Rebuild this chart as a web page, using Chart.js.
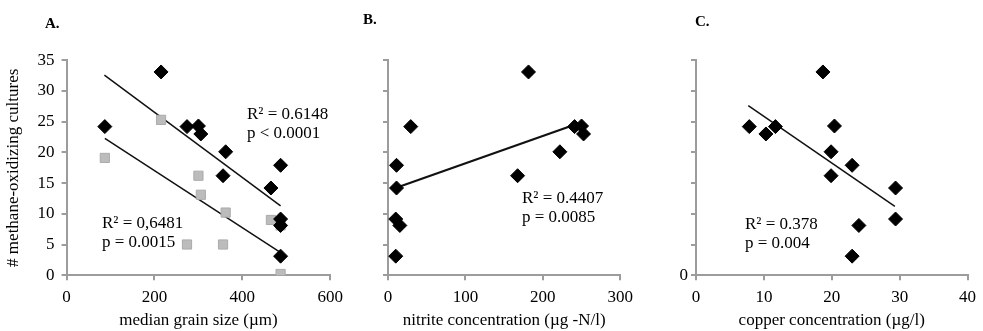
<!DOCTYPE html>
<html>
<head>
<meta charset="utf-8">
<script src="https://cdn.jsdelivr.net/npm/chart.js@4"></script>
<style>
  html, body { margin: 0; padding: 0; background: #fff; }
  #wrap { position: relative; width: 983px; height: 331px; font-family: "Liberation Serif", "Times New Roman", serif; color: #000; }
  canvas { position: absolute; top: 0; }
  .lbl { position: absolute; font-weight: bold; font-size: 15px; line-height: 16px; }
  .note { position: absolute; font-size: 17px; line-height: 19px; white-space: nowrap; }
</style>
</head>
<body>
<div id="wrap">
  <canvas id="chartA" style="left:0" width="350" height="331"></canvas>
  <canvas id="chartB" style="left:350px" width="290" height="331"></canvas>
  <canvas id="chartC" style="left:640px" width="343" height="331"></canvas>
  <div class="lbl" style="left:45px;top:15px">A.</div>
  <div class="lbl" style="left:363px;top:11px">B.</div>
  <div class="lbl" style="left:695px;top:13px">C.</div>
  <div class="note" style="left:247px;top:104px">R² = 0.6148<br>p &lt; 0.0001</div>
  <div class="note" style="left:102px;top:213px">R² = 0,6481<br>p = 0.0015</div>
  <div class="note" style="left:522px;top:188px">R² = 0.4407<br>p = 0.0085</div>
  <div class="note" style="left:745px;top:214px">R² = 0.378<br>p = 0.004</div>
</div>
<script>
// number of methane-oxidizing cultures per site (same sites in every panel)
const cultures = [24.2, 33.1, 24.2, 24.3, 23.0, 20.1, 16.2, 17.9, 14.2, 9.15, 8.1, 3.1];

// panel A
const grainSize = [87, 215, 274, 300, 305.5, 362, 356, 487, 465, 487, 487, 487];
const graySize = [87, 215, 274, 300, 305.5, 362, 356, 465, 487, 487];
const grayCultures = [19.1, 25.3, 5.0, 16.2, 13.1, 10.2, 5.0, 9.0, 8.1, 0.2];
const fitA1 = [[86, 32.6], [487, 11.3]];
const fitA2 = [[87, 22.3], [489, 3.6]];

// panel B
const nitrite = [29.4, 181.5, 241, 250, 252.6, 222, 167.4, 11, 11, 10, 15.3, 10];
const fitB = [[9.8, 14.2], [241, 24.5]];

// panel C
const copper = [7.85, 18.7, 11.7, 20.4, 10.3, 19.9, 19.9, 23.0, 29.4, 29.4, 24.0, 23.0];
const fitC = [[7.7, 27.6], [29.3, 11.2]];

const yTicks = [0, 5, 10, 15, 20, 25, 30, 35];

const axisGray = "#9c9c9c";
const font17 = { family: "Liberation Serif", size: 17 };

function pts(xs, ys) {
  return xs.map((x, i) => ({ x: x, y: ys[i] }));
}

function linePts(arr) {
  return arr.map(p => ({ x: p[0], y: p[1] }));
}

function diamonds(xs) {
  return {
    data: pts(xs, cultures),
    pointStyle: "rectRot",
    pointRadius: 7,
    backgroundColor: "#000",
    borderColor: "#000",
    borderWidth: 1,
    order: 1
  };
}

function fitLine(arr, w) {
  return {
    data: linePts(arr),
    showLine: true,
    pointRadius: 0,
    borderColor: "#111",
    borderWidth: w,
    order: 3
  };
}

function makeChart(id, datasets, opt) {
  new Chart(document.getElementById(id), {
    type: "scatter",
    data: { datasets },
    options: {
      responsive: false,
      animation: false,
      events: [],
      layout: { padding: { top: 60.3, right: opt.padRight, left: 0, bottom: 0 } },
      plugins: { legend: { display: false }, tooltip: { enabled: false } },
      scales: {
        x: {
          type: "linear",
          min: 0,
          max: opt.xMax,
          afterFit: s => { s.height = 55.8; },
          ticks: { stepSize: opt.xStep, color: "#000", font: font17, padding: 7, maxRotation: 0 },
          grid: { drawOnChartArea: false, drawTicks: true, tickLength: 5, color: axisGray, lineWidth: 2 },
          border: { color: axisGray, width: 2 },
          title: {
            display: true,
            text: opt.xTitle,
            color: "#000",
            font: font17,
            padding: { top: 0, bottom: 0 }
          }
        },
        y: {
          type: "linear",
          min: 0,
          max: 35,
          afterFit: s => { s.width = opt.yWidth; },
          afterBuildTicks: s => { s.ticks = yTicks.map(v => ({ value: v })); },
          ticks: {
            color: "#000",
            font: font17,
            padding: opt.yPad,
            callback: opt.yLabel
          },
          grid: { drawOnChartArea: false, drawTicks: true, tickLength: 5, color: axisGray, lineWidth: 2 },
          border: { color: axisGray, width: 2 },
          title: {
            display: !!opt.yTitle,
            text: opt.yTitle || "",
            color: "#000",
            font: font17,
            padding: { top: 3, bottom: 0 }
          }
        }
      }
    }
  });
}

makeChart("chartA", [
  fitLine(fitA1, 1.5),
  fitLine(fitA2, 1.5),
  {
    data: pts(graySize, grayCultures),
    pointStyle: "rect",
    pointRadius: 6.5,
    backgroundColor: "#bcbcbc",
    borderColor: "#ababab",
    borderWidth: 1,
    order: 2
  },
  diamonds(grainSize)
], {
  xMax: 600, xStep: 200, padRight: 8.3, yWidth: 66.6, yPad: 7,
  xTitle: "median grain size (µm)",
  yTitle: "# methane-oxidizing cultures",
  yLabel: v => String(v)
});

makeChart("chartB", [
  fitLine(fitB, 2.2),
  diamonds(nitrite)
], {
  xMax: 300, xStep: 100, padRight: 17, yWidth: 38, yPad: 7,
  xTitle: "nitrite concentration (µg -N/l)",
  yLabel: () => ""
});

makeChart("chartC", [
  fitLine(fitC, 1.5),
  diamonds(copper)
], {
  xMax: 40, xStep: 10, padRight: 11, yWidth: 56, yPad: 3,
  xTitle: "copper concentration (µg/l)",
  yLabel: v => (v === 0 ? "0" : "")
});
</script>
</body>
</html>
